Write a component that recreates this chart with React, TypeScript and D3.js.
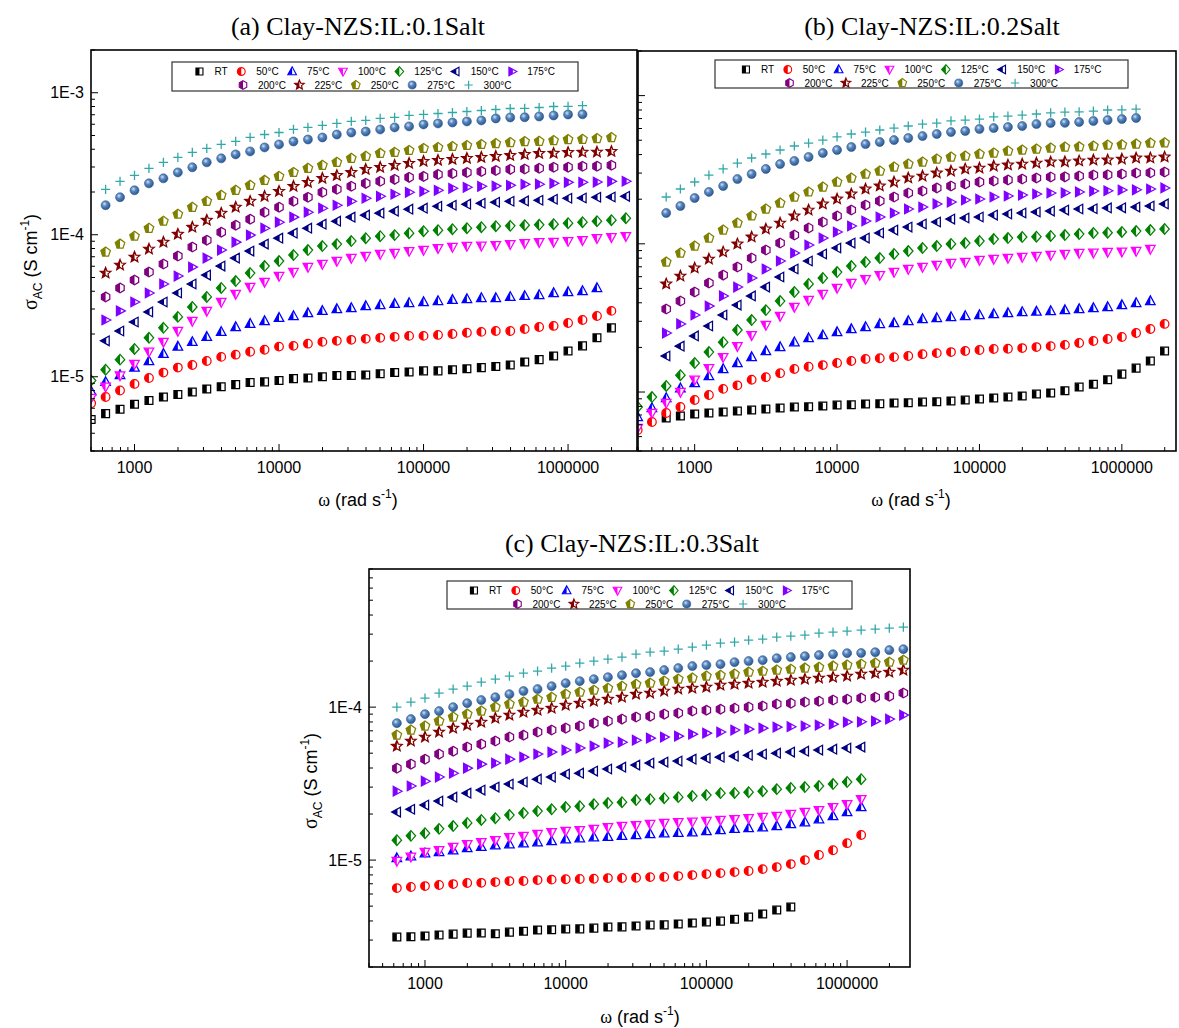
import React from 'react';
import * as d3 from 'd3';

// Angular frequencies (rad s^-1) of the measurement points
const omega = [398, 501, 631, 794, 1000, 1259, 1585, 1995, 2512, 3162, 3981, 5012, 6310, 7943, 10000, 12589, 15849, 19953, 25119, 31623, 39811, 50119, 63096, 79433, 100000, 125893, 158489, 199526, 251189, 316228, 398107, 501187, 630957, 794328, 1000000, 1258925, 1584893, 1995262, 2511886];

const seriesLabels = ['RT', '50°C', '75°C', '100°C', '125°C', '150°C', '175°C', '200°C', '225°C', '250°C', '275°C', '300°C'];
const seriesColors = ['#000000', '#FF0000', '#0000FF', '#FF00FF', '#008000', '#000080', '#8000FF', '#800080', '#800000', '#808000', '#3B6DA8', '#33A8A8'];
const seriesShapes = ['square', 'circle', 'triangleUp', 'triangleDown', 'diamond', 'triangleLeft', 'triangleRight', 'hexagon', 'star', 'pentagon', 'ball', 'plus'];

// σAC values in units of 1e-6 S cm^-1 ; start = index of first point in omega
// ---------- (a) 0.1 Salt ----------
const aStart = [1, 1, 1, 1, 1, 2, 2, 2, 2, 2, 2, 2];
const aRT = [5.0, 5.5, 5.9, 6.4, 6.8, 7.2, 7.5, 7.8, 8.2, 8.5, 8.8, 9.1, 9.2, 9.4, 9.7, 9.8, 10.0, 10.2, 10.2, 10.3, 10.5, 10.7, 10.8, 11.0, 11.0, 11.2, 11.4, 11.6, 11.8, 12.1, 12.7, 13.2, 14.0, 15.2, 16.5, 18.8, 22.1];
const a50 = [6.5, 7.2, 8.0, 8.9, 9.8, 10.7, 11.6, 12.1, 12.9, 13.8, 14.3, 15.0, 15.5, 16.3, 16.5, 17.1, 17.6, 17.9, 18.2, 18.5, 18.8, 19.1, 19.4, 19.4, 19.7, 20.0, 20.4, 20.7, 21.0, 21.0, 21.7, 22.4, 22.8, 23.9, 25.1, 26.8, 29.1];
const a75 = [7.9, 9.2, 10.3, 11.6, 12.9, 14.5, 16.3, 17.6, 19.1, 20.7, 22.4, 23.6, 24.7, 26.0, 26.8, 28.1, 29.1, 30.0, 30.5, 31.5, 32.0, 32.6, 33.1, 33.6, 34.2, 34.8, 35.3, 35.9, 35.9, 36.5, 37.1, 37.7, 38.9, 39.5, 40.2, 42.2];
const a100 = [7.1, 8.5, 10.2, 12.3, 15.0, 17.6, 21.0, 24.7, 29.1, 33.6, 38.3, 42.9, 46.5, 51.2, 54.6, 59.2, 62.2, 65.3, 68.5, 70.8, 73.1, 74.3, 76.7, 78.0, 80.5, 81.9, 83.2, 83.6, 84.5, 85.9, 87.3, 88.7, 89.0, 90.2, 91.6, 94.6, 96.1, 97.7];
const a125 = [9.4, 11.2, 13.2, 15.7, 18.8, 22.1, 26.4, 31.0, 36.5, 42.2, 47.2, 53.7, 60.2, 65.3, 71.9, 78.0, 83.2, 85.9, 90.2, 94.6, 97.7, 99.4, 102.6, 106, 107.7, 109.4, 111.2, 113, 114.9, 115.5, 116.8, 117.5, 118.7, 120.6, 122.6, 124.6, 126.6, 130.8];
const a150 = [17.9, 21.0, 24.3, 28.6, 33.6, 38.9, 45.0, 52.0, 60.2, 68.5, 76.7, 85.9, 94.6, 102.6, 111.2, 118.7, 124.6, 133, 137.4, 141.9, 146.6, 151.3, 153.8, 158.8, 161.4, 164.1, 166.7, 169.4, 172.2, 173, 175, 177.8, 180.7, 181.5, 183.7, 184.5, 186.6];
const a175 = [25.1, 29.1, 33.6, 38.9, 45.0, 51.2, 59.2, 68.5, 78.0, 88.7, 99.4, 111.2, 122.6, 133, 144.2, 153.8, 161.4, 172.2, 180.7, 186.6, 192.8, 199, 202.3, 205.6, 212.3, 215.8, 219.3, 220, 222.8, 226.5, 227, 230.1, 233.9, 234, 235, 237.7, 238];
const a200 = [36.5, 42.2, 48.0, 54.6, 62.2, 70.8, 81.9, 91.6, 104.3, 116.8, 128.7, 144.2, 156.3, 172.2, 183.7, 199, 209, 219.3, 230.1, 237.7, 245.5, 253.6, 257.6, 266.1, 270.4, 274.8, 279.2, 283.8, 288.7, 290, 293.8, 298.5, 299, 303.4, 304, 308.3];
const a225 = [53.7, 61.2, 69.6, 79.3, 88.7, 101, 113, 126.6, 141.9, 156.3, 172.2, 186.6, 202.3, 219.3, 233.9, 249.6, 261.8, 274.8, 288.7, 298.5, 308.3, 318.4, 328.9, 334.2, 339.6, 345.1, 350.8, 356.5, 362.2, 368.1, 374.1, 375, 380.2, 381, 382, 386.4];
const a250 = [75.5, 85.9, 97.7, 111.2, 124.6, 139.6, 156.3, 172.2, 189.7, 205.6, 222.8, 241.5, 257.6, 274.8, 293.8, 308.3, 323.6, 345.1, 356.5, 374.1, 380.2, 392.6, 405.5, 412.1, 418.8, 425.6, 432.5, 439.5, 446.7, 453.9, 455, 461.3, 468.8, 470, 476.4, 484.2];
const a275 = [161.4, 183.7, 205.6, 230.1, 249.6, 274.8, 298.5, 323.6, 345.1, 368.1, 386.4, 412.1, 432.5, 453.9, 468.8, 484.2, 508.2, 524.8, 533.3, 551.6, 570.2, 579.4, 598.4, 608.1, 617.6, 628.1, 638.3, 659.2, 669.9, 672, 680.8, 691.8, 703.1, 705];
const a300 = [209, 237.7, 261.8, 293.8, 323.6, 350.8, 380.2, 405.5, 432.5, 453.9, 484.2, 508.2, 524.8, 551.6, 570.2, 588.8, 608.1, 628.1, 638.3, 659.2, 669.9, 691.8, 703.1, 714.5, 726.1, 737.9, 749.9, 762.1, 774.5, 776, 787, 799.8, 801, 812.8];

// ---------- (b) 0.2 Salt ----------
const bStart = [2, 0, 0, 0, 0, 2, 2, 2, 2, 2, 2, 2];
const bRT = [6.68, 6.89, 7.11, 7.22, 7.33, 7.44, 7.56, 7.68, 7.80, 7.92, 7.95, 8.04, 8.17, 8.2, 8.30, 8.33, 8.43, 8.46, 8.56, 8.6, 8.70, 8.83, 8.97, 9.11, 9.25, 9.40, 9.69, 9.85, 10.2, 10.8, 11.3, 12.1, 13.2, 14.5, 16.2, 18.9];
const b50 = [5.54, 6.28, 7.22, 7.92, 8.83, 9.55, 10.5, 11.1, 12.1, 12.6, 13.4, 14.3, 14.8, 15.2, 15.7, 16.2, 16.7, 16.9, 17.2, 17.5, 18.0, 18.3, 18.6, 18.9, 19.2, 19.5, 19.6, 19.8, 20.1, 20.4, 20.8, 21.4, 22.1, 22.8, 23.5, 25.0, 26.6, 28.8];
const b75 = [6.78, 7.80, 9.11, 10.6, 11.5, 12.8, 14.3, 15.7, 17.2, 18.9, 20.1, 21.7, 23.1, 24.2, 25.4, 26.6, 27.5, 28.8, 29.2, 30.1, 31.1, 31.6, 32.1, 32.6, 33.1, 33.6, 34.1, 34.7, 34.9, 35.2, 35.7, 36.3, 36.9, 37.5, 38.6, 39.9, 41.1];
const b100 = [5.72, 7.22, 8.43, 10.0, 12.1, 14.5, 17.2, 20.4, 24.2, 28.3, 32.6, 37.5, 41.8, 45.8, 50.4, 54.4, 57.8, 61.5, 64.5, 67.6, 69.7, 71.9, 74.2, 75.4, 77.8, 78.9, 80.2, 81.5, 82.8, 84.0, 85.4, 86.7, 87.0, 88.1, 88.5, 89.4, 92.2];
const b125 = [7.92, 9.25, 11.0, 13.0, 15.7, 18.6, 21.7, 26.2, 30.6, 35.7, 41.1, 47.3, 53.6, 58.8, 64.5, 70.8, 75.4, 80.2, 85.4, 89.4, 93.7, 96.6, 99.8, 101.2, 104.5, 107.7, 109.4, 111.2, 111.8, 113, 114.6, 116.4, 118.3, 118.8, 120.2, 121.9, 123.9, 125.9];
const b150 = [17.5, 20.4, 23.9, 27.9, 33.1, 38.6, 44.5, 51.1, 59.7, 67.6, 76.6, 85.4, 93.7, 101.2, 109.4, 118.3, 123.9, 129.8, 136.1, 140.3, 146.9, 149.3, 151.7, 156.3, 158.9, 161.4, 164, 166.3, 169, 171.8, 172.5, 174.6, 175, 177.1, 179.9, 185.8];
const b175 = [25.0, 28.8, 33.1, 38.0, 44.5, 51.1, 58.8, 67.6, 76.6, 86.7, 98.2, 109.4, 120.2, 131.9, 142.6, 151.7, 161.4, 171.8, 177.1, 185.8, 191.4, 197.6, 200.6, 206.9, 210.2, 213.4, 216.8, 220.3, 221, 223.9, 227, 228, 230.7, 231.5, 234.4, 238.2];
const b200 = [36.3, 41.1, 47.3, 54.4, 61.5, 69.7, 80.2, 90.8, 101.2, 114.6, 127.9, 140.3, 154.2, 169, 182.8, 194.5, 206.9, 220.3, 227, 238.2, 245.5, 253.5, 261.2, 265.5, 269.8, 273.5, 278, 282.5, 283, 286.4, 291.1, 292, 295.8, 300.6, 301.5, 304.8];
const b225 = [53.6, 60.6, 68.7, 78.9, 88.1, 99.8, 111.2, 125.9, 138, 154.2, 169, 185.8, 200.6, 216.8, 234.4, 245.5, 261.2, 278, 286.4, 300.6, 309.7, 319.9, 324.3, 334.7, 340.4, 345.1, 350.8, 356.5, 357.5, 362.2, 367.3, 368, 373.3, 379.3, 380, 385.5];
const b250 = [75.4, 86.7, 96.6, 109.4, 123.9, 138, 154.2, 171.8, 188.4, 206.9, 223.9, 241.5, 261.2, 278, 295.8, 309.7, 329.6, 345.1, 356.5, 373.3, 385.5, 390.9, 403.6, 410.2, 422.7, 429.5, 436.5, 442.6, 449.8, 451, 457.1, 464.5, 466, 470.9, 478.6, 480];
const b275 = [161.4, 179.9, 203.7, 223.9, 245.5, 273.5, 295.8, 319.9, 345.1, 362.2, 385.5, 410.2, 429.5, 449.8, 470.9, 486.4, 501.2, 517.6, 533.3, 550.8, 567.5, 576.8, 595.7, 604, 613.8, 623.7, 642.7, 653.1, 655, 663.7, 674.5, 683.9, 695, 706.3];
const b300 = [206.9, 234.4, 261.2, 291.1, 319.9, 350.8, 379.3, 403.6, 429.5, 457.1, 478.6, 501.2, 526, 550.8, 567.5, 586.1, 604, 623.7, 642.7, 653.1, 674.5, 683.9, 695, 717.8, 727.8, 739.6, 751.6, 763.8, 774.5, 776, 787, 799.8, 801, 811];

// ---------- (c) 0.3 Salt ----------
const cStart = [2, 2, 2, 2, 2, 2, 2, 2, 2, 2, 2, 2];
const cRT = [3.14, 3.15, 3.19, 3.24, 3.28, 3.33, 3.34, 3.30, 3.38, 3.43, 3.49, 3.50, 3.54, 3.55, 3.59, 3.65, 3.66, 3.71, 3.76, 3.77, 3.82, 3.88, 3.94, 3.99, 4.11, 4.24, 4.44, 4.71, 4.93];
const c50 = [6.56, 6.67, 6.76, 6.87, 6.97, 7.08, 7.1, 7.18, 7.29, 7.3, 7.40, 7.45, 7.5, 7.52, 7.55, 7.63, 7.64, 7.66, 7.74, 7.76, 7.86, 7.98, 8.10, 8.22, 8.35, 8.48, 8.73, 9.00, 9.42, 10.0, 10.8, 11.6, 12.9, 14.6];
const c75 = [10.3, 10.6, 11.1, 11.3, 11.6, 12.0, 12.2, 12.5, 12.7, 12.9, 13.1, 13.3, 13.7, 13.9, 14.1, 14.2, 14.4, 14.6, 14.8, 15.0, 15.1, 15.2, 15.5, 15.7, 16.0, 16.2, 16.4, 16.7, 17.2, 17.7, 18.5, 19.4, 20.6, 22.2];
const c100 = [9.85, 10.5, 11.3, 11.6, 12.2, 12.7, 13.1, 13.5, 14.1, 14.4, 14.8, 15.2, 15.5, 15.7, 16.0, 16.4, 16.7, 16.9, 17.2, 17.5, 17.7, 17.8, 18.0, 18.3, 18.5, 18.8, 19.1, 19.4, 20.0, 20.6, 21.2, 22.2, 23.2, 25.0];
const c125 = [13.5, 14.4, 15.0, 16.0, 16.7, 17.5, 18.3, 18.8, 19.7, 20.3, 20.9, 21.5, 22.2, 22.5, 23.2, 23.6, 23.9, 24.7, 25.0, 25.4, 25.8, 26.2, 26.6, 27.4, 27.5, 27.8, 28.2, 29.1, 29.6, 30.0, 30.5, 31.4, 32.4, 33.8];
const c150 = [20.6, 21.5, 22.9, 24.3, 25.8, 27.4, 28.7, 30.0, 31.4, 32.4, 33.8, 34.9, 36.5, 37.0, 38.2, 39.4, 40.5, 41.8, 43.1, 43.7, 44.4, 45.7, 46.4, 47.1, 47.8, 48.5, 49.3, 50.0, 50.8, 51.5, 52.4, 53.1, 54.0, 54.8];
const c175 = [28.2, 30.5, 32.8, 34.9, 37.0, 39.9, 42.4, 43.1, 45.7, 47.1, 49.3, 50.8, 52.4, 54.0, 55.6, 58.2, 59.0, 60.8, 62.7, 63.7, 64.6, 66.6, 67.6, 68.7, 70.8, 71.8, 72.9, 74.0, 74.5, 75.2, 76.3, 77.4, 79.8, 80.2, 81.0, 83.5, 88.7];
const c200 = [39.9, 42.4, 45.7, 49.3, 51.5, 54.8, 57.3, 60.0, 63.7, 65.6, 68.7, 70.8, 72.9, 75.2, 78.6, 81.0, 83.5, 86.1, 87.3, 90.0, 91.4, 94.2, 95.5, 97.0, 98.4, 100, 101.6, 104.7, 106.2, 107.9, 109.4, 111.2, 112.7, 114.6, 116.1, 118, 123.6];
const c225 = [55.6, 60.0, 63.7, 68.7, 72.9, 76.3, 79.8, 84.7, 88.7, 92.7, 95.5, 98.4, 103, 106.2, 109.4, 112.7, 116.1, 121.6, 123.6, 127.4, 131.2, 133, 135.2, 139.3, 141.3, 143.5, 145.6, 147.9, 150, 152.4, 154.9, 157, 159.6, 164.4, 166.7, 169.4, 174.6];
const c250 = [65.6, 70.8, 75.2, 81.0, 86.1, 90.0, 94.2, 100, 104.7, 107.9, 112.7, 116.1, 121.6, 125.3, 129.1, 133, 137.1, 141.3, 143.5, 147.9, 152.4, 154.9, 159.6, 161.8, 164.4, 169.4, 171.8, 174.6, 177.1, 179.9, 182.4, 185.4, 188.4, 191, 194.1, 196.8, 202.8];
const c275 = [78.6, 83.5, 90.0, 94.2, 100, 106.2, 111.2, 116.1, 121.6, 127.4, 131.2, 137.1, 143.5, 147.9, 152.4, 157, 161.8, 166.7, 169.4, 174.6, 179.9, 185.4, 188.4, 191, 196.8, 200, 202.8, 208.9, 212.3, 215.3, 218.8, 221.8, 225.4, 226, 228.6, 235.9, 239.3];
const c300 = [100, 107.9, 114.6, 123.6, 131.2, 137.1, 145.6, 152.4, 159.6, 166.7, 171.8, 179.9, 185.4, 194.1, 200, 206.1, 212.3, 221.8, 228.6, 232.3, 239.3, 246.6, 254.1, 261.8, 266.1, 274.2, 278, 287.1, 291.1, 295.8, 304.8, 309, 314.1, 318.4, 323.6, 328.1, 333.4];

const xTickLabels = ['1000', '10000', '100000', '1000000'];

const SANS = "'Liberation Sans', Arial, Helvetica, sans-serif";
const SERIF = "'Liberation Serif', 'Times New Roman', serif";

function poly(pts: number[][]) {
  return 'M' + pts.map((p) => p[0].toFixed(2) + ',' + p[1].toFixed(2)).join('L') + 'Z';
}
function regularPts(n: number, r: number, startDeg: number) {
  const out: number[][] = [];
  for (let i = 0; i < n; i++) {
    const a = ((startDeg + (360 / n) * i) * Math.PI) / 180;
    out.push([r * Math.cos(a), r * Math.sin(a)]);
  }
  return out;
}
function starPts(ro: number, ri: number) {
  const out: number[][] = [];
  for (let i = 0; i < 10; i++) {
    const r = i % 2 === 0 ? ro : ri;
    const a = ((-90 + 36 * i) * Math.PI) / 180;
    out.push([r * Math.cos(a), r * Math.sin(a)]);
  }
  return out;
}
const shapePaths: Record<string, string> = {
  square: poly([[-3.9, -3.9], [3.9, -3.9], [3.9, 3.9], [-3.9, 3.9]]),
  circle: 'M-4.3,0A4.3,4.3 0 1 0 4.3,0A4.3,4.3 0 1 0 -4.3,0Z',
  triangleUp: poly([[0, -5.2], [4.8, 3.6], [-4.8, 3.6]]),
  triangleDown: poly([[0, 5.2], [4.8, -3.6], [-4.8, -3.6]]),
  diamond: poly([[0, -5.3], [4.7, 0], [0, 5.3], [-4.7, 0]]),
  triangleLeft: poly([[-5.2, 0], [3.6, -4.8], [3.6, 4.8]]),
  triangleRight: poly([[5.2, 0], [-3.6, -4.8], [-3.6, 4.8]]),
  hexagon: poly(regularPts(6, 4.8, -90)),
  star: poly(starPts(5.6, 2.5)),
  pentagon: poly(regularPts(5, 5.0, -90)),
};
const clipFor: Record<string, string> = {
  triangleLeft: 'url(#leftPart)',
};

function Marker({ shape, color, x, y, s = 1 }: { shape: string; color: string; x: number; y: number; s?: number }) {
  const t = `translate(${x.toFixed(2)},${y.toFixed(2)}) scale(${s})`;
  if (shape === 'plus') {
    return <path transform={t} d="M-4.6,0H4.6M0,-4.6V4.6" stroke={color} strokeWidth={1.3} fill="none" />;
  }
  if (shape === 'ball') {
    return <circle transform={t} cx={0} cy={0} r={4.5} fill="url(#ballGrad)" stroke="#2d5b91" strokeWidth={0.6} />;
  }
  const d = shapePaths[shape];
  return (
    <g transform={t}>
      <path d={d} fill="#ffffff" stroke={color} strokeWidth={1.25} strokeLinejoin="miter" />
      <path d={d} fill={color} clipPath={clipFor[shape] || 'url(#leftHalf)'} />
    </g>
  );
}

function textW(s: string, fs: number) {
  let w = 0;
  for (const ch of s) {
    if (/[0-9]/.test(ch)) w += 0.556;
    else if (ch === '°') w += 0.4;
    else if (ch === 'C' || ch === 'R') w += 0.722;
    else if (ch === 'T') w += 0.611;
    else w += 0.556;
  }
  return w * fs;
}

function Legend({ x, y, w, h }: { x: number; y: number; w: number; h: number }) {
  const rows = [[0, 1, 2, 3, 4, 5, 6], [7, 8, 9, 10, 11]];
  const fs = 10;
  const symW = 19.5;
  const gap = 9;
  const cx = x + w / 2;
  const rowY = [y + 9.5, y + 23];
  const items: React.ReactNode[] = [];
  rows.forEach((row, ri) => {
    const total = row.reduce((acc, i) => acc + symW + textW(seriesLabels[i], fs), 0) + gap * (row.length - 1);
    let cur = cx - total / 2;
    row.forEach((i) => {
      items.push(<Marker key={'m' + i} shape={seriesShapes[i]} color={seriesColors[i]} x={cur + 4.5} y={rowY[ri]} s={0.9} />);
      items.push(
        <text key={'t' + i} x={cur + symW} y={rowY[ri] + 3.6} fontSize={fs} fontFamily={SANS} fill="#000">
          {seriesLabels[i]}
        </text>
      );
      cur += symW + textW(seriesLabels[i], fs) + gap;
    });
  });
  return (
    <g>
      <rect x={x} y={y} width={w} height={h} fill="#fff" stroke="#333" strokeWidth={1.2} />
      {items}
    </g>
  );
}

type PanelCfg = {
  id: string;
  left: number; right: number; top: number; bottom: number;
  xDomain: [number, number]; yDomain: [number, number];
  starts: number[]; data: number[][];
  title: string; titleX: number; titleY: number;
  xLabelX: number; xLabelY: number; xTickY: number;
  yLabels: boolean; yLabelX?: number; yLabelY?: number;
  legend: { x: number; y: number; w: number; h: number };
};

function logTicks(d0: number, d1: number) {
  const out: { v: number; major: boolean; e: number }[] = [];
  const e0 = Math.floor(Math.log10(d0));
  const e1 = Math.ceil(Math.log10(d1));
  for (let e = e0; e <= e1; e++) {
    for (let m = 1; m <= 9; m++) {
      const v = m * Math.pow(10, e);
      if (v >= d0 * 0.9999 && v <= d1 * 1.0001) out.push({ v, major: m === 1, e });
    }
  }
  return out;
}

function Panel({ cfg }: { cfg: PanelCfg }) {
  const x = d3.scaleLog().domain(cfg.xDomain).range([cfg.left, cfg.right]);
  const y = d3.scaleLog().domain(cfg.yDomain).range([cfg.bottom, cfg.top]);
  const xt = logTicks(cfg.xDomain[0], cfg.xDomain[1]);
  const yt = logTicks(cfg.yDomain[0], cfg.yDomain[1]);
  const clipId = 'clip-' + cfg.id;
  return (
    <g>
      <defs>
        <clipPath id={clipId}>
          <rect x={cfg.left} y={cfg.top} width={cfg.right - cfg.left} height={cfg.bottom - cfg.top} />
        </clipPath>
      </defs>
      <text x={cfg.titleX} y={cfg.titleY} textAnchor="middle" fontFamily={SERIF} fontSize={26} fill="#000">
        {cfg.title}
      </text>
      <g clipPath={`url(#${clipId})`}>
        {cfg.data.map((vals, si) =>
          vals.map((v, i) => (
            <Marker
              key={si + '-' + i}
              shape={seriesShapes[si]}
              color={seriesColors[si]}
              x={x(omega[cfg.starts[si] + i])}
              y={y(v * 1e-6)}
            />
          ))
        )}
      </g>
      {xt.map((t, i) => (
        <line key={'xt' + i} x1={x(t.v)} x2={x(t.v)} y1={cfg.bottom} y2={cfg.bottom - (t.major ? 7 : 4)} stroke="#000" strokeWidth={1} />
      ))}
      {yt.map((t, i) => (
        <line key={'yt' + i} x1={cfg.left} x2={cfg.left + (t.major ? 7 : 4)} y1={y(t.v)} y2={y(t.v)} stroke="#000" strokeWidth={1} />
      ))}
      {xt.filter((t) => t.major).map((t, i) => (
        <text key={'xl' + i} x={x(t.v)} y={cfg.xTickY} textAnchor="middle" fontFamily={SANS} fontSize={16} fill="#000">
          {xTickLabels[t.e - 3]}
        </text>
      ))}
      {cfg.yLabels &&
        yt.filter((t) => t.major).map((t, i) => (
          <text key={'yl' + i} x={cfg.left - 7} y={y(t.v) + 5.6} textAnchor="end" fontFamily={SANS} fontSize={16} fill="#000">
            {'1E' + t.e}
          </text>
        ))}
      <rect x={cfg.left} y={cfg.top} width={cfg.right - cfg.left} height={cfg.bottom - cfg.top} fill="none" stroke="#000" strokeWidth={1.6} />
      <Legend {...cfg.legend} />
      <text x={cfg.xLabelX} y={cfg.xLabelY} textAnchor="middle" fontFamily={SANS} fontSize={18} fill="#000">
        <tspan fontFamily={SERIF}>ω</tspan>
        <tspan> (rad s</tspan>
        <tspan fontSize={12} dy={-8}>-1</tspan>
        <tspan dy={8}>)</tspan>
      </text>
      {cfg.yLabels && (
        <text
          transform={`translate(${cfg.yLabelX},${cfg.yLabelY}) rotate(-90)`}
          textAnchor="middle"
          fontFamily={SANS}
          fontSize={18}
          fill="#000"
        >
          <tspan fontFamily={SERIF} fontSize={20}>σ</tspan>
          <tspan fontSize={12} dy={5}>AC</tspan>
          <tspan dy={-5}> (S cm</tspan>
          <tspan fontSize={12} dy={-8}>-1</tspan>
          <tspan dy={8}>)</tspan>
        </text>
      )}
    </g>
  );
}

const panels: PanelCfg[] = [
  {
    id: 'a', left: 91, right: 637, top: 50, bottom: 451,
    xDomain: [500, 3e6], yDomain: [3e-6, 2e-3],
    starts: aStart, data: [aRT, a50, a75, a100, a125, a150, a175, a200, a225, a250, a275, a300],
    title: '(a) Clay-NZS:IL:0.1Salt', titleX: 358, titleY: 35,
    xLabelX: 358, xLabelY: 506, xTickY: 473,
    yLabels: true, yLabelX: 37, yLabelY: 262,
    legend: { x: 172, y: 62, w: 406, h: 29 },
  },
  {
    id: 'b', left: 638, right: 1176, top: 51, bottom: 451,
    xDomain: [400, 2.4e6], yDomain: [4e-6, 2e-3],
    starts: bStart, data: [bRT, b50, b75, b100, b125, b150, b175, b200, b225, b250, b275, b300],
    title: '(b) Clay-NZS:IL:0.2Salt', titleX: 932, titleY: 35,
    xLabelX: 911, xLabelY: 506, xTickY: 473,
    yLabels: false,
    legend: { x: 715, y: 60, w: 413, h: 28 },
  },
  {
    id: 'c', left: 369, right: 910, top: 569, bottom: 967,
    xDomain: [400, 2.8e6], yDomain: [2e-6, 8e-4],
    starts: cStart, data: [cRT, c50, c75, c100, c125, c150, c175, c200, c225, c250, c275, c300],
    title: '(c) Clay-NZS:IL:0.3Salt', titleX: 632, titleY: 552,
    xLabelX: 640, xLabelY: 1023, xTickY: 989,
    yLabels: true, yLabelX: 317, yLabelY: 781,
    legend: { x: 447, y: 581, w: 405, h: 28 },
  },
];

export default function App() {
  return (
    <svg
      width={1179}
      height={1028}
      viewBox="0 0 1179 1028"
      style={{ position: 'absolute', left: 0, top: 0, background: '#fff' }}
    >
      <defs>
        <clipPath id="leftHalf" clipPathUnits="objectBoundingBox">
          <rect x={0} y={0} width={0.5} height={1} />
        </clipPath>
        <clipPath id="leftPart" clipPathUnits="objectBoundingBox">
          <rect x={0} y={0} width={0.66} height={1} />
        </clipPath>
        <radialGradient id="ballGrad" cx="0.38" cy="0.35" r="0.65">
          <stop offset="0" stopColor="#d6e4f5" />
          <stop offset="0.4" stopColor="#5a88c0" />
          <stop offset="1" stopColor="#2a5790" />
        </radialGradient>
      </defs>
      <rect x={0} y={0} width={1179} height={1028} fill="#fff" />
      {panels.map((p) => (
        <Panel key={p.id} cfg={p} />
      ))}
    </svg>
  );
}
